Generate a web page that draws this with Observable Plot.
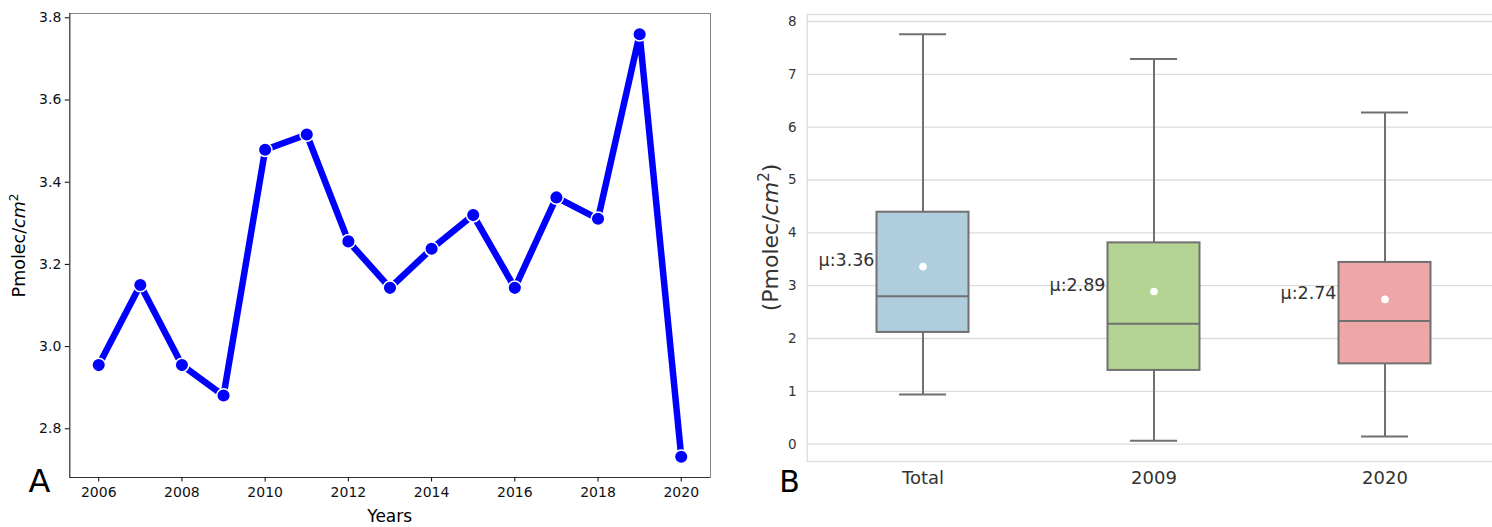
<!DOCTYPE html>
<html>
<head>
<meta charset="utf-8">
<script src="https://cdn.jsdelivr.net/npm/d3@7"></script>
<script src="https://cdn.jsdelivr.net/npm/@observablehq/plot@0.6"></script>
<style>
  html, body { margin: 0; padding: 0; background: #fff; }
  #wrap { position: relative; width: 1492px; height: 527px; overflow: hidden; }
  #wrap > svg { position: absolute; top: 0; overflow: visible; }
</style>
</head>
<body>
<div id="wrap"></div>
<script>
// ---- Panel A data ----
const years = [2006, 2007, 2008, 2009, 2010, 2011, 2012, 2013, 2014, 2015, 2016, 2017, 2018, 2019, 2020];
const columnValues = [2.955, 3.150, 2.955, 2.881, 3.479, 3.516, 3.256, 3.143, 3.238, 3.320, 3.143, 3.363, 3.311, 3.760, 2.732];
const yearTicks = [2006, 2008, 2010, 2012, 2014, 2016, 2018, 2020];
const valueTicksA = [2.8, 3.0, 3.2, 3.4, 3.6, 3.8];

// ---- Panel B data ----
const groups = ["Total", "2009", "2020"];
const whiskerLow = [0.94, 0.064, 0.146];
const q1 = [2.115, 1.396, 1.52];
const median = [2.80, 2.28, 2.33];
const q3 = [4.39, 3.81, 3.44];
const whiskerHigh = [7.76, 7.29, 6.28];
const means = [3.36, 2.89, 2.74];
const boxColors = ["#afcddd", "#b4d494", "#eea6a6"];
const valueTicksB = [0, 1, 2, 3, 4, 5, 6, 7, 8];

const wrap = document.getElementById("wrap");

// ================= Panel A =================
const lineData = years.map((y, i) => ({year: y, value: columnValues[i]}));
const yDomA = [2.6815, 3.8105];
const xDomA = [2005.305, 2020.703];

const plotA = Plot.plot({
  width: 740,
  height: 527,
  marginLeft: 69.3,
  marginRight: 30,
  marginTop: 13,
  marginBottom: 50,
  style: {fontFamily: "DejaVu Sans, sans-serif", color: "#000", background: "transparent"},
  x: {domain: xDomA, label: null},
  y: {domain: yDomA, label: null},
  marks: [
    Plot.frame({stroke: "#888", strokeWidth: 1}),
    Plot.ruleX([xDomA[0]], {stroke: "#333", strokeWidth: 1}),
    Plot.ruleY([yDomA[0]], {stroke: "#333", strokeWidth: 1}),
    Plot.axisX(yearTicks, {tickFormat: d => String(d), tickSize: 4.5, tickPadding: 5, fontSize: 14, fill: "#111", label: null}),
    Plot.axisY(valueTicksA, {tickFormat: d => d.toFixed(1), tickSize: 4.5, tickPadding: 4, fontSize: 14, fill: "#111", label: null}),
    Plot.line(lineData, {x: "year", y: "value", stroke: "#0000ff", strokeWidth: 6.5, strokeLinejoin: "miter"}),
    Plot.dot(lineData, {x: "year", y: "value", r: 6.8, fill: "#0000ff", stroke: "#fff", strokeWidth: 1.5})
  ]
});
plotA.style.left = "0px";
wrap.appendChild(plotA);
{
  const s = d3.select(plotA);
  const yl = s.append("text")
    .attr("transform", "translate(25,245.5) rotate(-90)")
    .attr("text-anchor", "middle")
    .attr("font-family", "DejaVu Sans, sans-serif")
    .attr("font-size", 17.5)
    .attr("fill", "#000");
  yl.append("tspan").text("Pmolec/");
  yl.append("tspan").attr("font-style", "italic").text("cm");
  yl.append("tspan").attr("font-size", 12).attr("dy", -7.5).text("2");
  s.append("text")
    .attr("x", 389.7).attr("y", 522)
    .attr("text-anchor", "middle")
    .attr("font-family", "DejaVu Sans, sans-serif")
    .attr("font-size", 17)
    .attr("fill", "#000")
    .text("Years");
  s.append("text")
    .attr("x", 39.5).attr("y", 492)
    .attr("font-family", "DejaVu Sans, sans-serif")
    .attr("font-size", 32)
    .attr("fill", "#000")
    .text("A");
}

// ================= Panel B =================
const boxData = groups.map((g, i) => ({
  group: g, lo: whiskerLow[i], q1: q1[i], med: median[i], q3: q3[i], hi: whiskerHigh[i],
  mean: means[i], label: "μ:" + means[i].toFixed(2), color: boxColors[i]
}));
const yDomB = [-0.3277, 8.1326];
const bandLeft = 66.7, bandStep = 231.3;
const boxInset = (bandStep - 92.3) / 2;
const capInset = (bandStep - 47.4) / 2;

const plotB = Plot.plot({
  width: 752,
  height: 527,
  marginLeft: bandLeft,
  marginRight: -3,
  marginTop: 14,
  marginBottom: 66,
  style: {fontFamily: "DejaVu Sans, sans-serif", color: "#333", background: "transparent"},
  x: {type: "band", domain: groups, range: [bandLeft, bandLeft + 3 * bandStep], padding: 0, label: null},
  y: {domain: yDomB, label: null},
  color: {type: "identity"},
  marks: [
    Plot.gridY(valueTicksB, {stroke: "#dcdcdc", strokeOpacity: 1, strokeWidth: 1.3}),
    Plot.frame({stroke: "#dcdcdc", strokeWidth: 1.3}),
    Plot.axisY(valueTicksB, {tickSize: 0, tickPadding: 10.5, fontSize: 13.5, fill: "#333", label: null, tickFormat: d => String(d)}),
    Plot.axisX({tickSize: 0, tickPadding: 10, fontSize: 18, fill: "#333", label: null}),
    Plot.ruleX(boxData, {x: "group", y1: "q3", y2: "hi", stroke: "#707070", strokeWidth: 2}),
    Plot.ruleX(boxData, {x: "group", y1: "lo", y2: "q1", stroke: "#707070", strokeWidth: 2}),
    Plot.tickY(boxData, {x: "group", y: "hi", insetLeft: capInset, insetRight: capInset, stroke: "#707070", strokeWidth: 2}),
    Plot.tickY(boxData, {x: "group", y: "lo", insetLeft: capInset, insetRight: capInset, stroke: "#707070", strokeWidth: 2}),
    Plot.barY(boxData, {x: "group", y1: "q1", y2: "q3", insetLeft: boxInset, insetRight: boxInset, fill: "color", stroke: "#707070", strokeWidth: 2}),
    Plot.tickY(boxData, {x: "group", y: "med", insetLeft: boxInset, insetRight: boxInset, stroke: "#707070", strokeWidth: 2}),
    Plot.dot(boxData, {x: "group", y: "mean", r: 3.8, fill: "#fff", stroke: "none"}),
    Plot.text(boxData, {x: "group", y: "mean", text: "label", textAnchor: "end", dx: -48.5, dy: -6, fontSize: 17.5, fill: "#333"})
  ]
});
plotB.style.left = "740px";
wrap.appendChild(plotB);
{
  const s = d3.select(plotB);
  const yl = s.append("text")
    .attr("transform", "translate(37.5,237.5) rotate(-90)")
    .attr("text-anchor", "middle")
    .attr("font-family", "DejaVu Sans, sans-serif")
    .attr("font-size", 22)
    .attr("fill", "#333");
  yl.append("tspan").text("(Pmolec/");
  yl.append("tspan").attr("font-style", "italic").text("cm");
  yl.append("tspan").attr("font-size", 15).attr("dy", -9).text("2");
  yl.append("tspan").attr("dy", 9).text(")");
  s.append("text")
    .attr("x", 49.5).attr("y", 492)
    .attr("font-family", "DejaVu Sans, sans-serif")
    .attr("font-size", 30)
    .attr("fill", "#000")
    .text("B");
}
</script>
</body>
</html>
